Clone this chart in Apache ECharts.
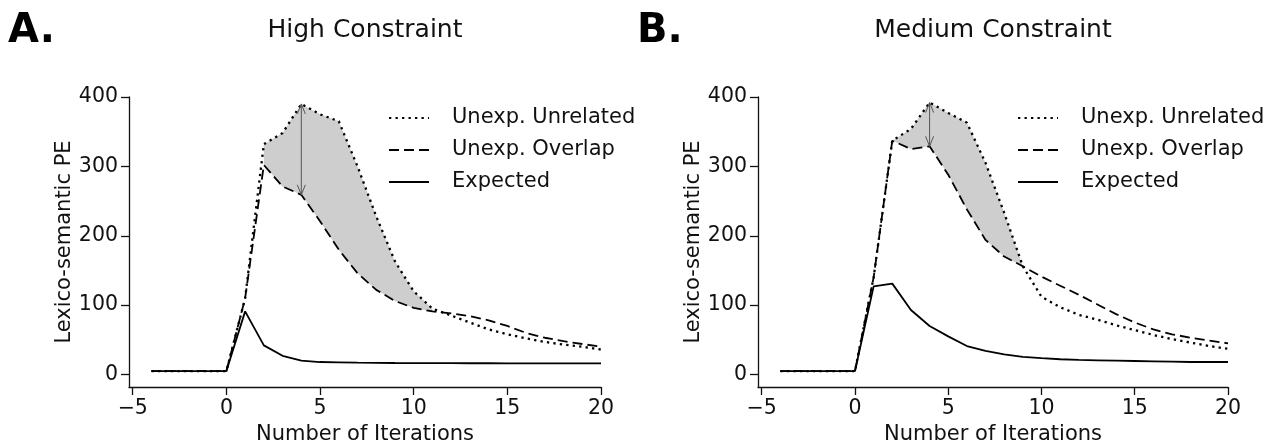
<!DOCTYPE html>
<html>
<head>
<meta charset="utf-8">
<script src="https://cdn.jsdelivr.net/npm/echarts@6/dist/echarts.min.js"></script>
<style>
  html, body { margin: 0; padding: 0; background: #fff; }
  #chart { width: 1265px; height: 441px; }
</style>
</head>
<body>
<div id="chart"></div>
<script>
// data
var iterations = [-4, -3, -2, -1, 0, 1, 2, 3, 4, 5, 6, 7, 8, 9, 10, 11, 12, 13, 14, 15, 16, 17, 18, 19, 20];

var highUnrelated = [5, 5, 5, 5, 5, 110, 332, 348, 390, 375, 365, 300, 228, 163, 120, 95, 85, 75, 65, 58, 52, 47, 43, 40, 36];
var highOverlap   = [5, 5, 5, 5, 5, 110, 302, 271, 259, 221, 180, 146, 122, 106, 96, 91, 88, 84, 78, 70, 60, 53, 48, 44, 40];
var highExpected  = [5, 5, 5, 5, 5, 91, 42, 27, 20, 18, 17.5, 17, 16.8, 16.6, 16.5, 16.4, 16.3, 16.2, 16.2, 16.1, 16.1, 16, 16, 16, 16];

var medUnrelated = [5, 5, 5, 5, 5, 140, 337, 354, 392, 377, 363, 305, 233, 156, 112, 97, 86, 79, 71, 64, 57, 51, 46, 41, 37];
var medOverlap   = [5, 5, 5, 5, 5, 140, 337, 325, 329, 288, 238, 194, 170, 156, 141, 128, 115, 101, 87, 75, 65, 58, 53, 49, 45];
var medExpected  = [5, 5, 5, 5, 5, 127, 131, 93, 70, 55, 41, 34, 29, 25.5, 23.5, 22, 21, 20.5, 20, 19.5, 19, 18.5, 18, 18, 18];

var xTicks = [-5, 0, 5, 10, 15, 20];
var yTicks = [0, 100, 200, 300, 400];
var legendNames = ['Unexp. Unrelated', 'Unexp. Overlap', 'Expected'];

var FONT = 'DejaVu Sans';
var INK = '#111';

var chart = echarts.init(document.getElementById('chart'));

function pairs(ys) {
    return iterations.map(function (x, i) { return [x, ys[i]]; });
}

function xAxisFor(idx) {
    return {
        type: 'value', gridIndex: idx, min: -5.2, max: 20,
        name: 'Number of Iterations', nameLocation: 'middle', nameGap: 33,
        nameTextStyle: { fontFamily: FONT, fontSize: 21, color: INK },
        splitLine: { show: false },
        axisLine: { onZero: false, lineStyle: { color: INK, width: 1.3 } },
        axisTick: { customValues: xTicks, length: 8, lineStyle: { color: INK, width: 1.3 } },
        axisLabel: {
            customValues: xTicks, margin: 11, fontFamily: FONT, fontSize: 20.5, color: INK,
            formatter: function (v) { return v < 0 ? '\u2212' + Math.abs(v) : String(v); }
        }
    };
}

function yAxisFor(idx) {
    return {
        type: 'value', gridIndex: idx, min: -18, max: 400,
        name: 'Lexico-semantic PE', nameLocation: 'middle', nameGap: 52, nameRotate: 90,
        nameTextStyle: { fontFamily: FONT, fontSize: 21, color: INK },
        splitLine: { show: false },
        axisLine: { show: true, onZero: false, lineStyle: { color: INK, width: 1.3 } },
        axisTick: { show: true, customValues: yTicks, length: 8, lineStyle: { color: INK, width: 1.3 } },
        axisLabel: { customValues: yTicks, margin: 11, fontFamily: FONT, fontSize: 20.5, color: INK }
    };
}

function lineSeries(name, idx, ys, style) {
    return {
        name: name, type: 'line', xAxisIndex: idx, yAxisIndex: idx,
        data: pairs(ys), symbol: 'none', z: 3, silent: true,
        itemStyle: { color: '#000' },
        lineStyle: style
    };
}

var dotted = { color: '#000', width: 2.3, type: [2.3, 4.2], cap: 'butt' };
var dashed = { color: '#000', width: 1.8, type: [10, 5], cap: 'butt' };
var solid = { color: '#000', width: 1.8, type: 'solid' };

// grey band between the two unexpected curves
function fillSeries(idx, unrel, over, from, to) {
    return {
        type: 'custom', xAxisIndex: idx, yAxisIndex: idx, silent: true, z: 1,
        data: [[iterations[from], over[from]]],
        renderItem: function (params, api) {
            var top = [], bottom = [];
            for (var i = from; i <= to; i++) {
                top.push(api.coord([iterations[i], unrel[i]]));
                bottom.unshift(api.coord([iterations[i], over[i]]));
            }
            return { type: 'polygon', shape: { points: top.concat(bottom) }, style: { fill: '#cecece' } };
        }
    };
}

// double headed arrow at iteration 4
function arrowSeries(idx, unrel, over, at) {
    var i = iterations.indexOf(at);
    return {
        type: 'custom', xAxisIndex: idx, yAxisIndex: idx, silent: true, z: 4,
        data: [[at, over[i]]],
        renderItem: function (params, api) {
            var a = api.coord([at, unrel[i]]);
            var b = api.coord([at, over[i]]);
            var w = 4, h = 10;
            var st = { stroke: '#555', lineWidth: 1, fill: null };
            return {
                type: 'group', children: [
                    { type: 'line', shape: { x1: a[0], y1: a[1], x2: b[0], y2: b[1] }, style: st },
                    { type: 'polyline', shape: { points: [[a[0] - w, a[1] + h], a, [a[0] + w, a[1] + h]] }, style: st },
                    { type: 'polyline', shape: { points: [[b[0] - w, b[1] - h], b, [b[0] + w, b[1] - h]] }, style: st }
                ]
            };
        }
    };
}

function legendFor(left) {
    return {
        data: legendNames, orient: 'vertical', left: left, top: 101,
        itemWidth: 40, itemHeight: 14, itemGap: 8, selectedMode: false,
        itemStyle: { color: 'rgba(0,0,0,0)', borderWidth: 0, opacity: 0 },
        textStyle: { fontFamily: FONT, fontSize: 21, color: INK, lineHeight: 24, padding: [0, 0, 0, 18] }
    };
}

var option = {
    animation: false,
    backgroundColor: '#fff',
    grid: [
        { left: 129, right: 664, top: 97, bottom: 54, outerBoundsMode: 'none' },
        { left: 758, right: 37, top: 97, bottom: 54, outerBoundsMode: 'none' }
    ],
    xAxis: [xAxisFor(0), xAxisFor(1)],
    yAxis: [yAxisFor(0), yAxisFor(1)],
    legend: [legendFor(383), legendFor(1012)],
    graphic: [
        { type: 'text', left: 8, top: 12, style: { text: 'A.', font: 'bold 40px "DejaVu Sans"', fill: '#000' } },
        { type: 'text', left: 637, top: 12, style: { text: 'B.', font: 'bold 40px "DejaVu Sans"', fill: '#000' } },
        { type: 'text', x: 365, y: 30, style: { text: 'High Constraint', font: '25px "DejaVu Sans"', fill: INK, textAlign: 'center', textVerticalAlign: 'middle' } },
        { type: 'text', x: 993, y: 30, style: { text: 'Medium Constraint', font: '25px "DejaVu Sans"', fill: INK, textAlign: 'center', textVerticalAlign: 'middle' } }
    ],
    series: [
        fillSeries(0, highUnrelated, highOverlap, 6, 15),
        lineSeries('Unexp. Unrelated', 0, highUnrelated, dotted),
        lineSeries('Unexp. Overlap', 0, highOverlap, dashed),
        lineSeries('Expected', 0, highExpected, solid),
        arrowSeries(0, highUnrelated, highOverlap, 4),

        fillSeries(1, medUnrelated, medOverlap, 6, 13),
        lineSeries('Unexp. Unrelated', 1, medUnrelated, dotted),
        lineSeries('Unexp. Overlap', 1, medOverlap, dashed),
        lineSeries('Expected', 1, medExpected, solid),
        arrowSeries(1, medUnrelated, medOverlap, 4)
    ]
};

chart.setOption(option);
</script>
</body>
</html>
